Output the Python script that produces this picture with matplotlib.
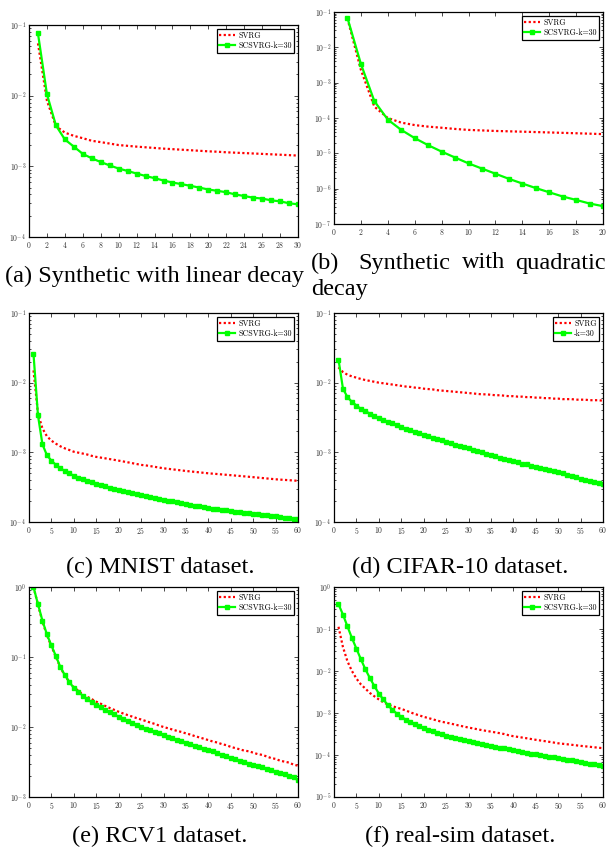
import matplotlib.pyplot as plt

plt.rcParams['mathtext.fontset'] = 'cm'

W, H = 609, 848

# (a) synthetic, linear decay
svrg_a = [0.055, 0.0085, 0.0037, 0.0030, 0.0027, 0.0025, 0.0023, 0.0022, 0.0021, 0.00200,
          0.00195, 0.00190, 0.00186, 0.00182, 0.00178, 0.00175, 0.00172, 0.00169, 0.00166, 0.00163,
          0.00161, 0.00158, 0.00156, 0.00154, 0.00152, 0.00150, 0.00148, 0.00146, 0.00144, 0.00142]
scsvrg_a = [0.076, 0.0105, 0.0038, 0.0024, 0.0019, 0.0015, 0.0013, 0.00115, 0.00103, 0.00093,
            0.00086, 0.00079, 0.00073, 0.00068, 0.00063, 0.00059, 0.00056, 0.00053, 0.00050, 0.00047,
            0.00045, 0.00043, 0.00040, 0.00038, 0.00036, 0.00035, 0.00033, 0.00032, 0.00030, 0.00029]

# (b) synthetic, quadratic decay
svrg_b = [0.065, 0.0023, 0.00021, 1.0e-4, 7.4e-5, 6.3e-5, 5.7e-5, 5.3e-5, 4.9e-5, 4.6e-5,
          4.45e-5, 4.3e-5, 4.2e-5, 4.1e-5, 4.0e-5, 3.9e-5, 3.8e-5, 3.7e-5, 3.6e-5, 3.5e-5]
scsvrg_b = [0.068, 0.0034, 0.0003, 9.0e-5, 4.6e-5, 2.7e-5, 1.7e-5, 1.12e-5, 7.6e-6, 5.2e-6,
            3.7e-6, 2.65e-6, 1.9e-6, 1.4e-6, 1.04e-6, 7.9e-7, 6.0e-7, 4.8e-7, 3.8e-7, 3.2e-7]

# (c) MNIST
svrg_c = [0.015, 0.0036, 0.0022, 0.0017, 0.00147, 0.00133, 0.00122, 0.00114, 0.00108, 0.00102,
          9.9e-4, 9.6e-4, 9.3e-4, 8.9e-4, 8.6e-4, 8.4e-4, 8.2e-4, 8.0e-4, 7.8e-4, 7.6e-4,
          7.4e-4, 7.2e-4, 7.0e-4, 6.8e-4, 6.6e-4, 6.5e-4, 6.35e-4, 6.2e-4, 6.05e-4, 5.9e-4,
          5.8e-4, 5.7e-4, 5.6e-4, 5.5e-4, 5.4e-4, 5.32e-4, 5.24e-4, 5.16e-4, 5.08e-4, 5.0e-4,
          4.94e-4, 4.88e-4, 4.82e-4, 4.76e-4, 4.7e-4, 4.64e-4, 4.58e-4, 4.52e-4, 4.46e-4, 4.4e-4,
          4.34e-4, 4.28e-4, 4.22e-4, 4.16e-4, 4.1e-4, 4.06e-4, 4.02e-4, 3.98e-4, 3.94e-4, 3.9e-4]
scsvrg_c = [0.026, 0.0034, 0.0013, 9.1e-4, 7.6e-4, 6.6e-4, 5.9e-4, 5.4e-4, 5.0e-4, 4.6e-4,
            4.35e-4, 4.1e-4, 3.9e-4, 3.7e-4, 3.5e-4, 3.37e-4, 3.24e-4, 3.12e-4, 3.0e-4, 2.9e-4,
            2.8e-4, 2.7e-4, 2.6e-4, 2.5e-4, 2.42e-4, 2.35e-4, 2.28e-4, 2.21e-4, 2.15e-4, 2.09e-4,
            2.03e-4, 1.97e-4, 1.91e-4, 1.86e-4, 1.81e-4, 1.76e-4, 1.72e-4, 1.68e-4, 1.64e-4, 1.60e-4,
            1.56e-4, 1.53e-4, 1.50e-4, 1.47e-4, 1.44e-4, 1.41e-4, 1.38e-4, 1.35e-4, 1.33e-4, 1.31e-4,
            1.29e-4, 1.27e-4, 1.25e-4, 1.23e-4, 1.20e-4, 1.18e-4, 1.16e-4, 1.14e-4, 1.12e-4, 1.10e-4]

# (d) CIFAR-10
svrg_d = [0.0166, 0.0142, 0.0130, 0.0123, 0.0118, 0.0113, 0.0109, 0.0106, 0.0103, 0.0100,
          0.0098, 0.0096, 0.0094, 0.0092, 0.0090, 0.0088, 0.0087, 0.0085, 0.0084, 0.0082,
          0.0081, 0.0080, 0.0078, 0.0077, 0.0076, 0.0075, 0.0074, 0.0073, 0.0072, 0.0071,
          0.0070, 0.0069, 0.0068, 0.0068, 0.0067, 0.0066, 0.0066, 0.0065, 0.0064, 0.0064,
          0.0063, 0.0063, 0.0062, 0.0062, 0.0061, 0.0061, 0.0060, 0.0060, 0.0059, 0.0059,
          0.0058, 0.0058, 0.0058, 0.0057, 0.0057, 0.0057, 0.0056, 0.0056, 0.0056, 0.0055]
scsvrg_d = [0.0215, 0.0082, 0.0062, 0.0053, 0.0047, 0.0042, 0.0039, 0.0036, 0.0033, 0.0031,
            0.0029, 0.00275, 0.0026, 0.00245, 0.0023, 0.00218, 0.00207, 0.00197, 0.00188, 0.00179,
            0.00171, 0.00163, 0.00155, 0.00148, 0.00141, 0.00135, 0.00129, 0.00124, 0.00119, 0.00114,
            0.00109, 0.00105, 0.00100, 9.6e-4, 9.2e-4, 8.8e-4, 8.4e-4, 8.1e-4, 7.8e-4, 7.5e-4,
            7.2e-4, 6.9e-4, 6.7e-4, 6.4e-4, 6.2e-4, 6.0e-4, 5.8e-4, 5.6e-4, 5.4e-4, 5.2e-4,
            5.0e-4, 4.8e-4, 4.6e-4, 4.4e-4, 4.2e-4, 4.05e-4, 3.9e-4, 3.75e-4, 3.62e-4, 3.5e-4]

# (e) RCV1
svrg_e = [1.0, 0.56, 0.32, 0.205, 0.142, 0.100, 0.071, 0.054, 0.044, 0.037,
          0.033, 0.029, 0.027, 0.025, 0.023, 0.0215, 0.0200, 0.0187, 0.0176, 0.0165,
          0.0156, 0.0148, 0.0141, 0.0134, 0.0128, 0.0122, 0.0116, 0.0111, 0.0105, 0.0100,
          0.0096, 0.0092, 0.0088, 0.0085, 0.0081, 0.0078, 0.0074, 0.0071, 0.0068, 0.0065,
          0.0062, 0.0060, 0.0057, 0.0055, 0.0052, 0.0050, 0.0048, 0.0046, 0.0045, 0.0043,
          0.0041, 0.0040, 0.0038, 0.0036, 0.0035, 0.0033, 0.0032, 0.0031, 0.0029, 0.0028]
scsvrg_e = [1.0, 0.57, 0.33, 0.21, 0.146, 0.103, 0.072, 0.055, 0.044, 0.036,
            0.032, 0.028, 0.025, 0.0225, 0.0205, 0.019, 0.0176, 0.0163, 0.0151, 0.0140,
            0.0131, 0.0123, 0.0115, 0.0107, 0.0100, 0.0095, 0.0090, 0.0085, 0.0081, 0.0077,
            0.0073, 0.0069, 0.0066, 0.0063, 0.0060, 0.0057, 0.0054, 0.0052, 0.0049, 0.0047,
            0.0045, 0.0042, 0.0040, 0.0038, 0.0036, 0.0035, 0.0033, 0.0032, 0.0030, 0.0029,
            0.0028, 0.0027, 0.0025, 0.0024, 0.0023, 0.0022, 0.0021, 0.0020, 0.0019, 0.00174]

# (f) real-sim
svrg_f = [0.113, 0.037, 0.017, 0.010, 0.0066, 0.0048, 0.0038, 0.0030, 0.0025, 0.0021,
          0.0018, 0.0016, 0.00145, 0.00135, 0.00125, 0.00115, 0.00104, 9.5e-4, 8.8e-4, 8.1e-4,
          7.6e-4, 7.1e-4, 6.6e-4, 6.2e-4, 5.9e-4, 5.6e-4, 5.3e-4, 5.0e-4, 4.75e-4, 4.5e-4,
          4.3e-4, 4.1e-4, 3.9e-4, 3.75e-4, 3.6e-4, 3.45e-4, 3.3e-4, 3.15e-4, 2.95e-4, 2.8e-4,
          2.7e-4, 2.6e-4, 2.5e-4, 2.4e-4, 2.3e-4, 2.22e-4, 2.14e-4, 2.06e-4, 1.98e-4, 1.9e-4,
          1.85e-4, 1.8e-4, 1.75e-4, 1.7e-4, 1.65e-4, 1.61e-4, 1.57e-4, 1.53e-4, 1.49e-4, 1.45e-4]
scsvrg_f = [0.39, 0.22, 0.115, 0.061, 0.034, 0.019, 0.011, 0.0068, 0.0044, 0.0029,
            0.0021, 0.00155, 0.0012, 9.7e-4, 8.1e-4, 7.0e-4, 6.2e-4, 5.5e-4, 4.9e-4, 4.4e-4,
            4.0e-4, 3.7e-4, 3.4e-4, 3.1e-4, 2.9e-4, 2.75e-4, 2.6e-4, 2.45e-4, 2.32e-4, 2.2e-4,
            2.08e-4, 1.97e-4, 1.87e-4, 1.76e-4, 1.66e-4, 1.58e-4, 1.50e-4, 1.43e-4, 1.36e-4, 1.29e-4,
            1.24e-4, 1.18e-4, 1.13e-4, 1.08e-4, 1.04e-4, 1.0e-4, 9.6e-5, 9.2e-5, 8.8e-5, 8.4e-5,
            8.1e-5, 7.8e-5, 7.4e-5, 7.1e-5, 6.8e-5, 6.5e-5, 6.2e-5, 6.0e-5, 5.7e-5, 5.5e-5]

# panel setup: data, x range/step, y decades, 2nd legend label, axes box in px (left, top, right, bottom)
panels = [
    (svrg_a, scsvrg_a, 30, 2, -4, -1, 'SCSVRG-k=30', (29, 25, 298, 237)),
    (svrg_b, scsvrg_b, 20, 2, -7, -1, 'SCSVRG-k=30', (334, 12, 603, 224)),
    (svrg_c, scsvrg_c, 60, 5, -4, -1, 'SCSVRG-k=30', (29, 313, 298, 522)),
    (svrg_d, scsvrg_d, 60, 5, -4, -1, '-k=30', (334, 313, 603, 522)),
    (svrg_e, scsvrg_e, 60, 5, -3, 0, 'SCSVRG-k=30', (29, 587, 298, 797)),
    (svrg_f, scsvrg_f, 60, 5, -5, 0, 'SCSVRG-k=30', (334, 587, 603, 797)),
]

fig = plt.figure(figsize=(W / 100, H / 100), dpi=100)

for svrg, sc, xmax, xstep, ylo, yhi, lab2, (l, t, r, b) in panels:
    ax = fig.add_axes([l / W, 1 - b / H, (r - l) / W, (b - t) / H])
    xs = list(range(1, len(svrg) + 1))
    ax.plot(xs, svrg, color='red', ls=(0, (1, 1.1)), lw=1.6, label='SVRG')
    ax.plot(xs, sc, color='#00ff00', lw=1.6, marker='s', ms=2.4, label=lab2)
    ax.set_yscale('log')
    ax.set_xlim(0, xmax)
    ax.set_ylim(10.0 ** ylo, 10.0 ** yhi)
    ax.set_xticks(list(range(0, xmax + 1, xstep)))
    ax.set_xticklabels(['$%d$' % v for v in range(0, xmax + 1, xstep)])
    ax.set_yticks([10.0 ** k for k in range(ylo, yhi + 1)])
    ax.set_yticklabels(['$10^{%d}$' % k for k in range(ylo, yhi + 1)])
    ax.tick_params(which='both', direction='in', top=True, right=True, labelsize=5.5,
                   colors='black', labelcolor='#333333', width=0.5)
    ax.tick_params(which='major', length=3, pad=2)
    ax.tick_params(which='minor', length=1.6)
    for s in ax.spines.values():
        s.set_linewidth(0.9)
    leg = ax.legend(loc='upper right', frameon=True, fancybox=False,
                    edgecolor='black', framealpha=1, borderpad=0.3, handlelength=2.0,
                    handletextpad=0.4, labelspacing=0.25, borderaxespad=0.5,
                    prop={'family': 'cmr10', 'size': 5.7})
    leg.get_frame().set_linewidth(0.9)

cap = dict(family='Liberation Serif', fontsize=17.5, va='center', color='black')
fig.text(154 / W, 1 - 276 / H, '(a) Synthetic with linear decay', ha='center', **cap)
fig.text(311 / W, 1 - 263 / H, '(b)', ha='left', **cap)
fig.text(358 / W, 1 - 263 / H, 'Synthetic', ha='left', **cap)
fig.text(462 / W, 1 - 263 / H, 'with', ha='left', **cap)
fig.text(606 / W, 1 - 263 / H, 'quadratic', ha='right', **cap)
fig.text(311 / W, 1 - 289 / H, 'decay', ha='left', **cap)
fig.text(160 / W, 1 - 567 / H, '(c) MNIST dataset.', ha='center', **cap)
fig.text(460 / W, 1 - 567 / H, '(d) CIFAR-10 dataset.', ha='center', **cap)
fig.text(160 / W, 1 - 836 / H, '(e) RCV1 dataset.', ha='center', **cap)
fig.text(460 / W, 1 - 836 / H, '(f) real-sim dataset.', ha='center', **cap)

fig.savefig('out.png', dpi=100)
